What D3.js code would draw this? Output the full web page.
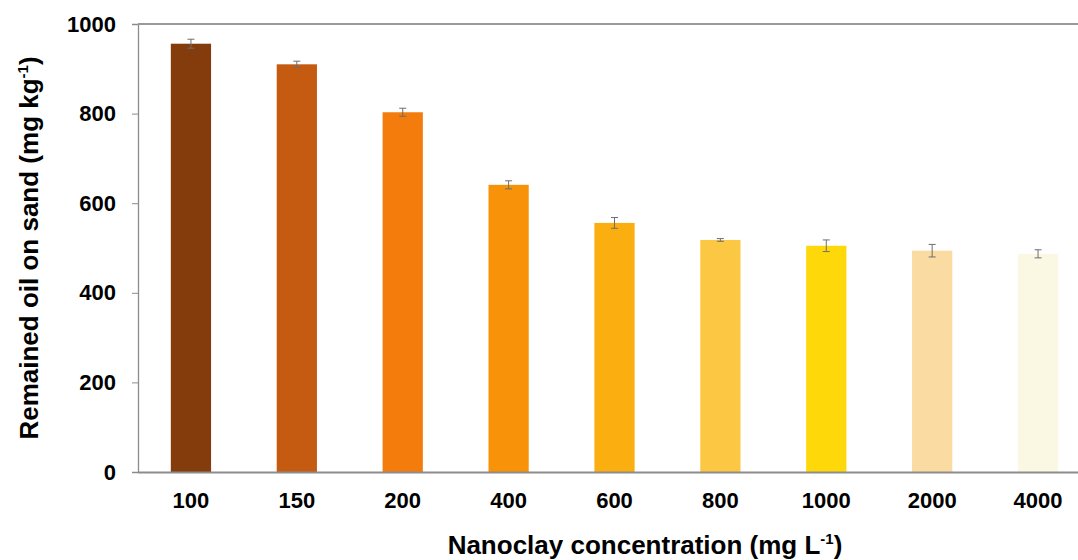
<!DOCTYPE html>
<html lang="en">
<head>
    <meta charset="UTF-8">
    <title>Remained oil on sand</title>
    <script src="https://cdn.jsdelivr.net/npm/d3@7"></script>
    <style>
        body { margin: 0; background: #fff; }
        svg text { font-family: "Liberation Sans", Arial, sans-serif; font-weight: bold; fill: #000; }
    </style>
</head>
<body>
    <svg id="chart" width="1078" height="560"></svg>
    <script>
        // data
        let concentrations = ["100", "150", "200", "400", "600", "800", "1000", "2000", "4000"];
        let remainedOil = [956, 910, 803, 641, 556, 518, 505, 494, 487];
        let errors = [10, 7, 9, 9, 12, 3, 13, 14, 9];
        let barColors = ["#843c0c", "#c55a11", "#f47c0c", "#f79209", "#fbae10",
                         "#fcc843", "#ffd80a", "#fadba2", "#faf8e3"];
        let yTicks = [0, 200, 400, 600, 800, 1000];

        let svg = d3.select("#chart");
        let margin = { left: 138, top: 24, bottom: 472, right: 1091 };

        let x = d3.scaleBand()
            .domain(concentrations)
            .range([margin.left, margin.right])
            .paddingInner(0.62)
            .paddingOuter(0.31);

        let y = d3.scaleLinear()
            .domain([0, 1000])
            .range([margin.bottom, margin.top]);

        // bars
        svg.append("g")
            .selectAll("rect")
            .data(concentrations)
            .join("rect")
            .attr("x", d => x(d))
            .attr("width", x.bandwidth())
            .attr("y", (d, i) => y(remainedOil[i]))
            .attr("height", (d, i) => y(0) - y(remainedOil[i]))
            .attr("fill", (d, i) => barColors[i]);

        // error bars
        let eb = svg.append("g")
            .attr("stroke", "#6e6e6e")
            .attr("stroke-width", 1);
        concentrations.forEach((c, i) => {
            let cx = x(c) + x.bandwidth() / 2;
            let top = y(remainedOil[i] + errors[i]);
            let bot = y(remainedOil[i] - errors[i]);
            eb.append("line").attr("x1", cx).attr("x2", cx).attr("y1", top).attr("y2", bot);
            eb.append("line").attr("x1", cx - 3.5).attr("x2", cx + 3.5).attr("y1", top).attr("y2", top);
            eb.append("line").attr("x1", cx - 3.5).attr("x2", cx + 3.5).attr("y1", bot).attr("y2", bot);
        });

        // y axis
        let yAxis = svg.append("g")
            .attr("transform", `translate(${margin.left},0)`)
            .call(d3.axisLeft(y).tickValues(yTicks).tickFormat(d3.format("d")).tickSize(6).tickPadding(16));
        yAxis.select(".domain").attr("stroke", "#8c8c8c").attr("stroke-width", 1.3);
        yAxis.selectAll(".tick line").attr("stroke", "#8c8c8c");
        yAxis.selectAll(".tick text").attr("font-size", 22).attr("fill", "#000");
        yAxis.selectAll(".tick").filter(d => d === 0 || d === 1000).select("line").remove();

        // top frame line
        svg.append("line")
            .attr("x1", margin.left).attr("x2", 1078)
            .attr("y1", y(1000)).attr("y2", y(1000))
            .attr("stroke", "#999").attr("stroke-width", 2);

        // x axis
        let xAxis = svg.append("g")
            .attr("transform", `translate(0,${y(0)})`)
            .call(d3.axisBottom(x).tickSize(0).tickPadding(20));
        xAxis.select(".domain").attr("stroke", "#8c8c8c").attr("stroke-width", 2);
        xAxis.selectAll(".tick text").attr("font-size", 22).attr("fill", "#000");

        // axis titles
        let xt = svg.append("text")
            .attr("x", 645).attr("y", 554)
            .attr("text-anchor", "middle")
            .attr("font-size", 26);
        xt.append("tspan").text("Nanoclay concentration (mg L");
        xt.append("tspan").attr("dy", -10).attr("font-size", 15).text("-1");
        xt.append("tspan").attr("dy", 10).text(")");

        let yt = svg.append("text")
            .attr("transform", "translate(38,248) rotate(-90)")
            .attr("text-anchor", "middle")
            .attr("font-size", 26);
        yt.append("tspan").text("Remained oil on sand (mg kg");
        yt.append("tspan").attr("dy", -10).attr("font-size", 15).text("-1");
        yt.append("tspan").attr("dy", 10).text(")");
    </script>
</body>
</html>
